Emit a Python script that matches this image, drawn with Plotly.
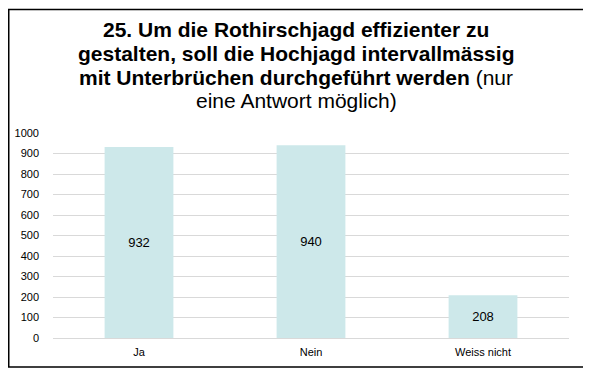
import plotly.graph_objects as go

categories = ["Ja", "Nein", "Weiss nicht"]
values = [932, 940, 208]
y_ticks = [0, 100, 200, 300, 400, 500, 600, 700, 800, 900, 1000]

title_bold = ["25. Um die Rothirschjagd effizienter zu",
              "gestalten, soll die Hochjagd intervallmässig",
              "mit Unterbrüchen durchgeführt werden"]
title_normal = ["(nur", "eine Antwort möglich)"]

FONT = "Liberation Sans, Arial, sans-serif"
OFF = 8  # browser body margin

fig = go.Figure()
fig.add_trace(go.Bar(
    x=categories, y=values,
    text=[str(v) for v in values],
    textposition="inside", insidetextanchor="middle",
    textfont=dict(family=FONT, size=13, color="#000000"),
    marker=dict(color="#CDE8EA", line=dict(width=0)),
    width=0.4,
))

W, H = 591 - OFF, 374 - OFF
L = 53 - OFF
R = 591 - 569
T = 132.7 - OFF
B = 374 - 338.5
pw = W - L - R
ph = H - T - B

def px_x(x_page):
    return (x_page - OFF - L) / pw

def px_y(y_page):
    return (H - B - (y_page - OFF)) / ph

title_lines = [
    "<b>" + title_bold[0] + "</b>",
    "<b>" + title_bold[1] + "</b>",
    "<b>" + title_bold[2] + "</b> " + title_normal[0],
    title_normal[1],
]
line_y = [28.5, 52.5, 76.5, 100.5]
for t, yy in zip(title_lines, line_y):
    fig.add_annotation(
        text=t, xref="paper", yref="paper",
        x=px_x(296), y=px_y(yy), xanchor="center", yanchor="middle",
        showarrow=False, font=dict(family=FONT, size=21, color="#000000"),
    )

fig.add_shape(type="rect", xref="paper", yref="paper",
              x0=px_x(8.75), x1=px_x(584), y0=px_y(367.5), y1=px_y(8.75),
              line=dict(color="#000000", width=1.5), fillcolor="rgba(0,0,0,0)")

fig.update_layout(
    width=W, height=H,
    margin=dict(l=L, r=R, t=T, b=B, autoexpand=False),
    paper_bgcolor="white", plot_bgcolor="white",
    showlegend=False,
    bargap=0.6,
    font=dict(family=FONT, size=11, color="#000000"),
)
fig.update_xaxes(showline=False, ticks="", tickfont=dict(size=11, color="#000000"),
                 ticklabelstandoff=6, automargin=False)
fig.update_yaxes(range=[0, 1000], tickvals=y_ticks, showgrid=True,
                 gridcolor="#D9D9D9", gridwidth=1, zeroline=True,
                 zerolinecolor="#D9D9D9", zerolinewidth=1, ticks="",
                 tickfont=dict(size=11, color="#000000"), ticklabelstandoff=13,
                 automargin=False)

fig.write_html("out.html")
